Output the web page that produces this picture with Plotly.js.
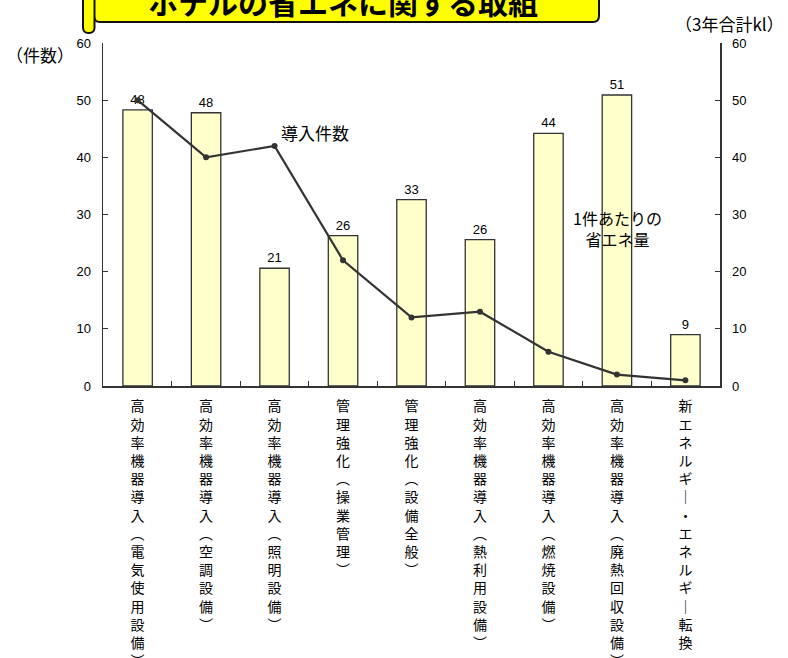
<!DOCTYPE html>
<html>
<head>
<meta charset="utf-8">
<script src="https://cdn.plot.ly/plotly-3.0.1.min.js"></script>
<style>html,body{margin:0;padding:0;background:#fff;}</style>
</head>
<body>
<div id="chart" style="width:788px;height:658px;"></div>
<script>
// ---- data ----
const categories = [
  "高効率機器導入（電気使用設備）",
  "高効率機器導入（空調設備）",
  "高効率機器導入（照明設備）",
  "管理強化（操業管理）",
  "管理強化（設備全般）",
  "高効率機器導入（熱利用設備）",
  "高効率機器導入（燃焼設備）",
  "高効率機器導入（廃熱回収設備）",
  "新エネルギー・エネルギー転換"
];
const savingPerCase = [48.3, 47.8, 20.6, 26.3, 32.6, 25.6, 44.2, 50.9, 9.0];   // 3年合計kl (right axis)
const caseCounts    = [50, 40, 42, 22, 12, 13, 6, 2, 1];                        // 件数 (left axis)
const leftTicks  = [0, 10, 20, 30, 40, 50, 60];
const rightTicks = [0, 10, 20, 30, 40, 50, 60];

const titleText = "ホテルの省エネに関する取組";
const leftAxisTitle = "（件数）";
const rightAxisTitle = "（3年合計kl）";
const lineLabel = "導入件数";
const barLabel = "1件あたりの<br>省エネ量";

// vertical presentation of category labels
function verticalize(s) {
  const map = {"（": "︵", "）": "︶", "ー": "｜"};
  return Array.from(s).map(c => map[c] || c).join("<br>");
}
const tickText = categories.map(verticalize);

// ---- geometry helpers (pixel -> paper) ----
const L = 103, R = 68, T = 43, B = 272, W = 788, H = 658;
const PW = W - L - R, PH = H - T - B;
const X = px => (px - L) / PW;
const Y = py => (H - B - py) / PH;

const FONT = "Liberation Sans, Arial, Noto Sans CJK JP, sans-serif";
const JFONT = "Noto Sans CJK JP, Liberation Sans, sans-serif";

const barTrace = {
  type: "bar",
  x: categories,
  y: savingPerCase,
  yaxis: "y2",
  name: "1件あたりの省エネ量",
  marker: {color: "#ffffcc", line: {color: "#333333", width: 1.3}},
  texttemplate: "%{y:.0f}",
  textposition: "outside",
  textfont: {family: FONT, size: 13, color: "#000"},
  cliponaxis: false
};
const lineTrace = {
  type: "scatter",
  mode: "lines+markers",
  x: categories,
  y: caseCounts,
  yaxis: "y",
  name: "導入件数",
  line: {color: "#333333", width: 2.2},
  marker: {color: "#333333", size: 6},
  cliponaxis: false
};

// title banner path (rounded bottom corners)
function boxPath(x0, x1, y0, y1, r) {
  return `M ${X(x0)} ${Y(y0)} L ${X(x1)} ${Y(y0)} L ${X(x1)} ${Y(y1 - r)} ` +
         `Q ${X(x1)} ${Y(y1)} ${X(x1 - r)} ${Y(y1)} L ${X(x0 + r)} ${Y(y1)} ` +
         `Q ${X(x0)} ${Y(y1)} ${X(x0)} ${Y(y1 - r)} Z`;
}

const layout = {
  width: W, height: H,
  margin: {l: L, r: R, t: T, b: B, pad: 0},
  paper_bgcolor: "#fff",
  plot_bgcolor: "rgba(0,0,0,0)",
  showlegend: false,
  bargap: 0.57,
  font: {family: FONT, color: "#000"},
  xaxis: {
    type: "category",
    tickmode: "array",
    tickvals: categories,
    ticktext: tickText,
    tickson: "boundaries",
    ticks: "inside",
    ticklen: 5,
    tickcolor: "#333",
    tickangle: 0,
    showline: true,
    linecolor: "#333",
    linewidth: 1.5,
    showgrid: false,
    zeroline: false,
    tickfont: {family: JFONT, size: 14, color: "#000"},
    ticklabelstandoff: 7,
    anchor: "y2"
  },
  yaxis2: {
    range: [0, 60],
    side: "right",
    tickmode: "array",
    tickvals: rightTicks,
    ticks: "inside",
    ticklen: 5,
    tickcolor: "#333",
    showline: true,
    linecolor: "#333",
    linewidth: 1.5,
    showgrid: false,
    zeroline: false,
    tickfont: {family: FONT, size: 13, color: "#000"},
    ticklabelstandoff: 8
  },
  yaxis: {
    range: [0, 60],
    side: "left",
    overlaying: "y2",
    tickmode: "array",
    tickvals: leftTicks,
    ticks: "inside",
    ticklen: 5,
    tickcolor: "#333",
    showline: true,
    linecolor: "#333",
    linewidth: 1.5,
    showgrid: false,
    zeroline: false,
    tickfont: {family: FONT, size: 13, color: "#000"},
    ticklabelstandoff: 8
  },
  shapes: [
    {type: "path", xref: "paper", yref: "paper", path: boxPath(94, 599, -20, 22, 6),
     fillcolor: "#ffff00", line: {color: "#111", width: 2}, layer: "above"},
    {type: "path", xref: "paper", yref: "paper", path: boxPath(83, 94.5, -20, 33, 5.5),
     fillcolor: "#ffff00", line: {color: "#111", width: 2}, layer: "above"}
  ],
  annotations: [
    {xref: "paper", yref: "paper", x: X(343), y: Y(1), text: titleText, showarrow: false,
     xanchor: "center", yanchor: "middle",
     font: {family: JFONT, size: 30, color: "#000", weight: "bold"}},
    {xref: "paper", yref: "paper", x: X(40), y: Y(55), text: leftAxisTitle, showarrow: false,
     xanchor: "center", yanchor: "middle", font: {family: JFONT, size: 17, color: "#000"}},
    {xref: "paper", yref: "paper", x: X(729), y: Y(24), text: rightAxisTitle, showarrow: false,
     xanchor: "center", yanchor: "middle", font: {family: JFONT, size: 17, color: "#000"}},
    {xref: "paper", yref: "paper", x: X(315), y: Y(132), text: lineLabel, showarrow: false,
     xanchor: "center", yanchor: "middle", font: {family: JFONT, size: 17, color: "#000"}},
    {xref: "paper", yref: "paper", x: X(617), y: Y(228), text: barLabel, showarrow: false,
     xanchor: "center", yanchor: "middle", font: {family: JFONT, size: 16, color: "#000"}}
  ]
};

Plotly.newPlot("chart", [barTrace, lineTrace], layout, {displayModeBar: false, staticPlot: true});
</script>
</body>
</html>
